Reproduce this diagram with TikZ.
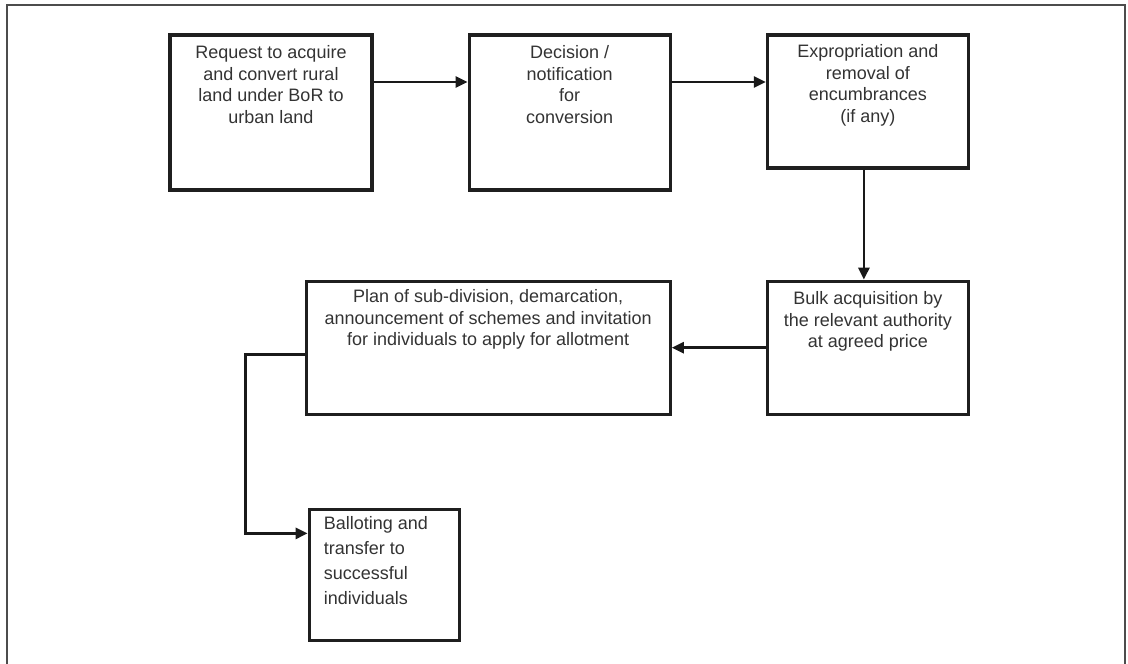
\documentclass[tikz,border=0pt]{standalone}
\usepackage{fontspec}
\setmainfont{Liberation Sans}
\usepackage{tikz}
\usetikzlibrary{positioning,arrows.meta}

\tikzset{
    stage/.style={draw=black!88, line width=3.2pt, inner sep=0pt,
        minimum width=201pt, minimum height=133pt},
    stagetext/.style={anchor=north, align=center, inner sep=0pt, text=black!80,
        font=\fontsize{18}{21.5}\selectfont, execute at begin node=\strut},
    flow/.style={draw=black!90, line width=2.8pt, -{Triangle[length=12pt,width=11pt]}},
    frame/.style={draw=black!70, line width=1.8pt}
}

\begin{document}
\begin{tikzpicture}
    \useasboundingbox (0pt,0pt) rectangle (1128pt,-664pt);
    \draw[frame] (7pt,-664pt) |- (1125pt,-5pt) -- (1125pt,-664pt);

    \node[stage, minimum width=202pt, minimum height=155pt] (request) at (271pt,-112.5pt) {};
    \node[stage, minimum height=155pt, right=94pt of request] (decision) {};
    \node[stage, right=94pt of decision.north east, anchor=north west] (expro) {};
    \node[stage, below=110pt of expro] (bulk) {};
    \node[stage, minimum width=364pt, left=94pt of bulk] (plan) {};
    \node[stage, minimum width=150pt, minimum height=131pt,
        below=92pt of plan.south west, anchor=north west, xshift=3pt] (ballot) {};

    \node[stagetext] (request text) at ([yshift=-12pt]request.north)
        {Request to acquire\\ and convert rural\\ land under BoR to\\ urban land};
    \node[stagetext] (decision text) at ([yshift=-12pt]decision.north)
        {Decision /\\ notification\\ for\\ conversion};
    \node[stagetext] (expro text) at ([yshift=-11pt]expro.north)
        {Expropriation and\\ removal of\\ encumbrances\\ (if any)};
    \node[stagetext] (bulk text) at ([yshift=-12pt]bulk.north)
        {Bulk acquisition by\\ the relevant authority\\ at agreed price};
    \node[stagetext] (plan text) at ([yshift=-10pt]plan.north)
        {Plan of sub-division, demarcation,\\ announcement of schemes and invitation\\ for individuals to apply for allotment};
    \node[stagetext, anchor=north west, align=left, font=\fontsize{18}{25}\selectfont]
        (ballot text) at ([xshift=16pt,yshift=-8.5pt]ballot.north west)
        {Balloting and\\ transfer to\\ successful\\ individuals};

    \draw[flow] ([yshift=30.5pt]request.east) -- ([yshift=30.5pt]decision.west);
    \draw[flow] ([yshift=30.5pt]decision.east) -- ([yshift=30.5pt]decision.east -| expro.west);
    \draw[flow] ([xshift=-4pt]expro.south) -- ([xshift=-4pt]bulk.north);
    \draw[flow] (bulk.west) -- (plan.east);
    \draw[flow] ([yshift=-7pt]plan.west) -- ++(-59pt,0pt) |- ([yshift=41.5pt]ballot.west);
\end{tikzpicture}
\end{document}
